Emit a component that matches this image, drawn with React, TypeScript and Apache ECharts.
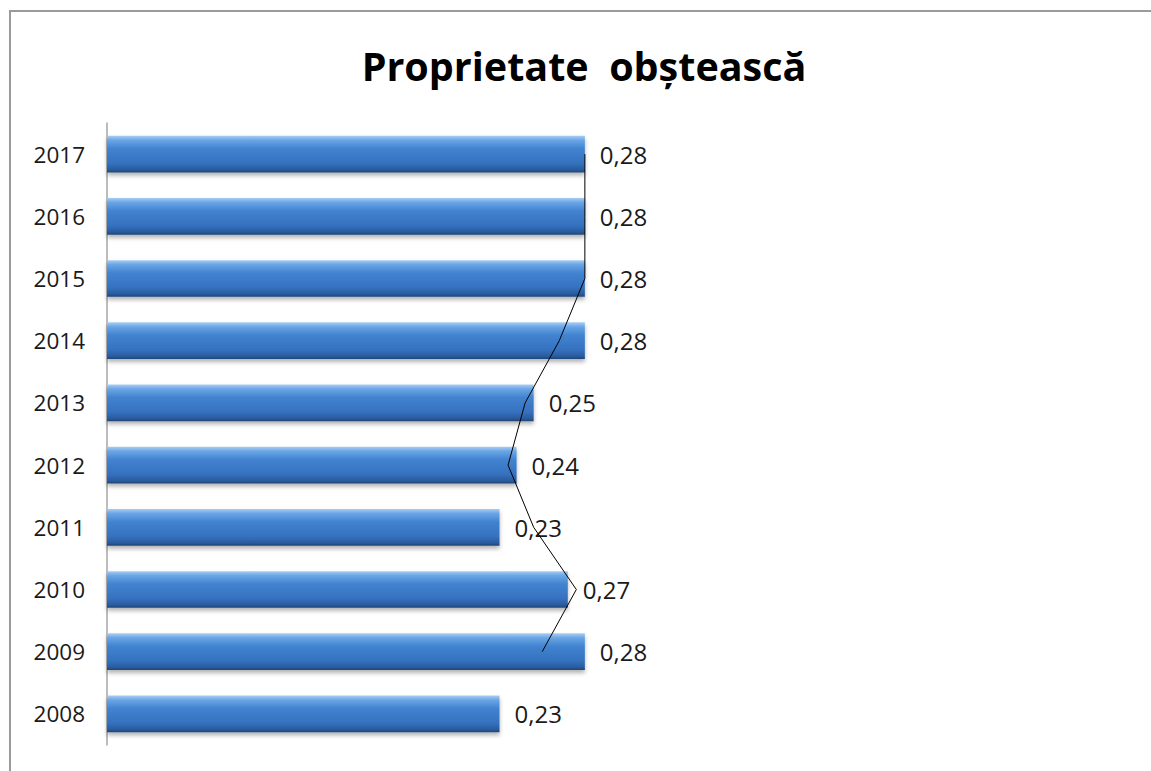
import React, { useEffect, useRef } from "react";
import * as echarts from "echarts";

const years = ["2008", "2009", "2010", "2011", "2012", "2013", "2014", "2015", "2016", "2017"];
const values = [0.23, 0.28, 0.27, 0.23, 0.24, 0.25, 0.28, 0.28, 0.28, 0.28];
// 2-period moving average trend line
const trend = [null, 0.255, 0.275, 0.25, 0.235, 0.245, 0.265, 0.28, 0.28, 0.28];
const titleText = "Proprietate  obștească";

export default function App() {
  const ref = useRef<HTMLDivElement>(null);
  useEffect(() => {
    if (!ref.current) return;
    const chart = echarts.init(ref.current, undefined, { renderer: "svg" });
    const font = "'Open Sans', 'Noto Sans', sans-serif";
    chart.setOption({
      animation: false,
      backgroundColor: "#ffffff",
      grid: { left: 107, top: 123, width: 512, height: 622, containLabel: false },
      xAxis: { type: "value", min: 0, max: 0.3, show: false },
      yAxis: {
        type: "category",
        data: years,
        axisLine: { show: true, lineStyle: { color: "#a6a6a6", width: 1.5 } },
        axisTick: { show: false },
        splitLine: { show: false },
        axisLabel: { fontSize: 22.5, color: "#1a1a1a", margin: 22, fontFamily: font },
      },
      series: [
        {
          type: "bar",
          data: values,
          barCategoryGap: "41%",
          itemStyle: {
            color: new echarts.graphic.LinearGradient(0, 0, 0, 1, [
              { offset: 0, color: "#a9cdf3" },
              { offset: 0.12, color: "#6aa6e6" },
              { offset: 0.35, color: "#4283d0" },
              { offset: 0.75, color: "#3571bf" },
              { offset: 0.92, color: "#2a5c9e" },
              { offset: 1, color: "#1f4577" },
            ]),
            shadowColor: "rgba(0,0,0,0.3)",
            shadowBlur: 4,
            shadowOffsetY: 3,
          },
          label: {
            show: true,
            position: "right",
            distance: 15,
            fontSize: 24,
            color: "#1a1a1a",
            fontFamily: font,
            formatter: (p: any) => String(p.value).replace(".", ","),
          },
          z: 2,
        },
        {
          type: "line",
          data: trend,
          showSymbol: false,
          symbol: "none",
          lineStyle: { color: "#000000", width: 1 },
          z: 3,
        },
      ],
      graphic: [
        {
          type: "rect",
          shape: { x: 10, y: 11, width: 1300, height: 900 },
          style: { fill: "none", stroke: "#9a9a9a", lineWidth: 2 },
          silent: true,
        },
        {
          type: "text",
          x: 584,
          y: 66,
          style: {
            text: titleText,
            fontSize: 39.5,
            fontWeight: "bold",
            fontFamily: font,
            fill: "#000000",
            align: "center",
            verticalAlign: "middle",
          },
        },
      ],
    });
    return () => chart.dispose();
  }, []);
  return (
    <div
      ref={ref}
      style={{ position: "fixed", left: 0, top: 0, width: 1151, height: 771 }}
    />
  );
}
